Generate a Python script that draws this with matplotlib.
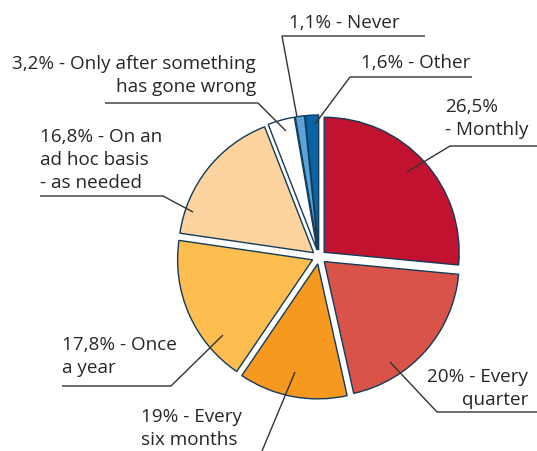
import matplotlib.pyplot as plt

plt.rcParams['font.family'] = ['Open Sans', 'DejaVu Sans']

# shares clockwise from 12 o'clock (the six-month wedge is drawn at 13 %,
# although its printed label says 19 %)
categories = ['Monthly', 'Every quarter', 'Every six months', 'Once a year',
              'On an ad hoc basis - as needed',
              'Only after something has gone wrong', 'Never', 'Other']
shares = [26.5, 20, 13, 17.8, 16.8, 3.2, 1.1, 1.6]
label_lines = [
    ['26,5%', '- Monthly'],
    ['20% - Every', 'quarter'],
    ['19% - Every', 'six months'],
    ['17,8% - Once', 'a year'],
    ['16,8% - On an', 'ad hoc basis', '- as needed'],
    ['3,2% - Only after something', 'has gone wrong'],
    ['1,1% - Never'],
    ['1,6% - Other'],
]
colors = ['#c1122f', '#da5349', '#f7981f', '#fdbd4f',
          '#fdd49f', '#ffffff', '#5ba3d9', '#0a63a5']

# layout, in pixels from the top-left corner
W, H = 537, 452
text_pos = [(445, 112, 'left'), (528, 382, 'right'), (141, 422, 'left'),
            (62, 350, 'left'), (40, 142, 'left'), (256, 69, 'right'),
            (289, 28, 'left'), (361, 68, 'left')]
leaders = [
    [(537, 147), (450, 147), (407, 173)],
    [(537, 413), (437, 413), (390, 363)],
    [(262, 452), (295, 373)],
    [(62, 387), (171, 387), (223, 336)],
    [(40, 197), (163, 197), (193, 213)],
    [(105, 104), (258, 104), (286, 132)],
    [(425, 37), (282, 37), (297, 118)],
    [(472, 78), (350, 78), (315, 125)],
]
line_gap = 23

fig = plt.figure(figsize=(W / 100, H / 100), dpi=100)
ax = fig.add_axes([0, 0, 1, 1])

ax.pie(shares, colors=colors, startangle=90, counterclock=False,
       explode=[7] * len(shares), radius=135, center=(319, H - 258),
       wedgeprops=dict(edgecolor='#123b5a', linewidth=1.0))

for lines, (x, y, ha), pts in zip(label_lines, text_pos, leaders):
    for i, s in enumerate(lines):
        ax.text(x, H - (y + i * line_gap), s, ha=ha, va='baseline',
                fontsize=13.6, color='#262626')
    xs = [p[0] for p in pts]
    ys = [H - p[1] for p in pts]
    ax.plot(xs, ys, color='#333333', lw=1.0, solid_capstyle='butt')

ax.set_xlim(0, W)
ax.set_ylim(0, H)
ax.set_aspect('equal')
ax.axis('off')

fig.savefig('out.png', dpi=100)
